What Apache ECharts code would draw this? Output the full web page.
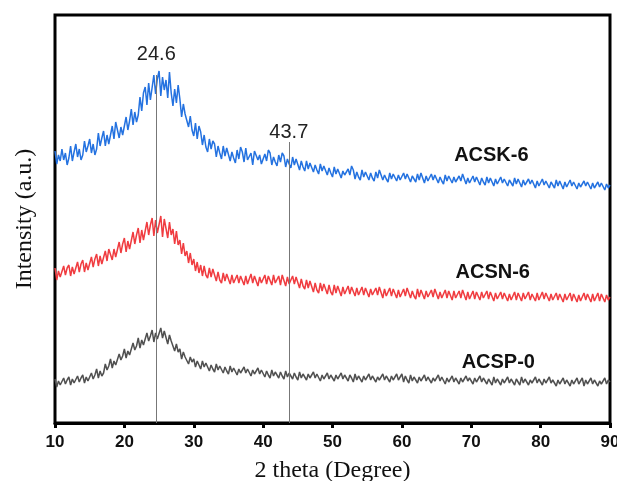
<!DOCTYPE html>
<html><head><meta charset="utf-8">
<script src="https://cdn.jsdelivr.net/npm/echarts@6/dist/echarts.min.js"></script>
<style>html,body{margin:0;padding:0;background:#fff}#c{width:617px;height:481px}</style>
</head><body><div id="c"></div>
<script>
// 2θ sampling: start 10°, step 0.25°, up to 90°
const thetaStart = 10, thetaStep = 0.25;
const xTicks = [10,20,30,40,50,60,70,80,90];
const seriesNames = ['ACSK-6','ACSN-6','ACSP-0'];
const peakPositions = [24.6, 43.7];
const peakLabels = ['24.6', '43.7'];
const peakLineTops = [348, 281];
const nameLabelPos = [[72.9, 268], [73.1, 151], [73.9, 61]];

const acsk6 = [
272,259,268,262, 274,263,270,258, 265,277,262,271, 279,266,274,263, 268,282,271,277,
284,270,279,268, 274,290,277,285, 292,277,288,279, 281,297,284,301, 299,285,296,288,
290,306,293,302, 314,298,311,301, 308,326,312,330, 336,318,340,323, 324,348,329,344,
352,327,346,333, 343,325,351,330, 317,334,320,338, 324,306,319,309, 311,296,307,293,
287,300,284,297, 291,278,288,276, 271,284,274,282, 279,266,277,270, 264,277,267,275,
274,262,271,265, 260,273,264,276, 271,261,275,263, 262,270,258,272, 272,263,268,259,
259,269,262,273, 270,258,266,261, 257,268,261,270, 267,256,264,259, 255,266,258,264,
264,253,262,256, 252,262,254,260, 261,251,258,253, 249,259,252,257, 258,248,255,250,
246,256,249,254, 255,245,252,248, 246,254,248,257, 253,244,251,246, 243,253,246,251,
252,243,250,245, 242,251,245,253, 251,243,248,244, 241,250,244,249, 251,242,248,243,
242,250,244,249, 250,241,247,244, 241,249,243,250, 249,240,247,242, 241,249,243,248,
248,240,246,242, 239,248,242,247, 248,240,246,241, 240,247,242,249, 247,239,245,240,
239,247,241,246, 247,238,245,241, 238,246,240,245, 246,237,244,239, 238,246,240,244,
246,237,243,240, 237,245,239,244, 245,236,243,238, 236,244,239,243, 244,235,242,237,
236,244,238,242, 243,235,241,238, 235,243,237,242, 243,234,241,236, 235,243,237,241,
242,234,240,236, 234,242,237,241, 242,234,240,235, 234,241,236,240, 241,233,239,235,
238];

const acsn6 = [
155,143,152,146, 146,157,148,155, 158,147,156,149, 149,161,151,159, 163,151,160,153,
154,166,156,164, 169,157,167,159, 160,172,162,174, 176,163,174,166, 168,181,170,179,
185,171,182,174, 176,191,179,188, 195,180,193,183, 185,201,188,198, 205,187,203,190,
189,207,186,204, 203,185,201,188, 194,179,192,178, 183,169,180,167, 172,160,170,158,
164,152,161,150, 158,147,157,148, 145,155,146,154, 152,142,151,143, 140,150,142,149,
149,139,148,140, 138,148,140,147, 148,138,147,139, 139,149,140,147, 148,137,146,140,
138,148,139,147, 147,138,148,140, 139,147,138,148, 147,137,146,139, 138,147,139,146,
145,135,144,137, 134,143,135,142, 141,131,140,133, 130,140,132,139, 139,129,138,131,
128,138,130,137, 137,127,136,129, 127,137,129,136, 136,127,135,128, 126,136,128,135,
136,126,134,128, 126,135,128,136, 135,125,134,127, 125,135,127,134, 134,125,133,126,
125,134,127,135, 134,125,132,127, 124,134,126,133, 133,124,132,126, 124,133,126,134,
133,124,131,125, 124,133,125,132, 133,123,132,125, 123,132,125,133, 132,123,131,124,
123,132,124,131, 132,123,131,125, 123,132,124,131, 131,122,130,124, 122,131,124,130,
131,122,129,123, 122,131,123,130, 131,122,130,124, 122,131,123,129, 131,122,130,123,
122,131,124,130, 130,122,129,123, 121,130,123,129, 130,121,129,123, 121,130,122,129,
130,121,128,122, 121,130,123,129, 130,121,129,122, 121,130,122,129, 129,121,128,123,
126];

const acsp0 = [
44,36,42,38, 37,45,39,43, 46,38,44,40, 39,47,41,45, 48,40,46,42,
42,50,44,48, 54,45,52,47, 50,59,53,57, 64,55,62,58, 60,69,63,67,
74,65,72,68, 70,80,73,77, 85,75,83,78, 79,90,82,87, 93,81,90,84,
82,95,85,92, 91,79,88,82, 81,72,79,71, 74,64,71,66, 68,59,66,61,
64,56,62,58, 54,62,56,60, 60,52,58,54, 51,59,53,57, 58,50,56,52,
49,57,51,55, 56,48,54,50, 48,56,50,54, 55,47,53,49, 47,55,49,53,
54,46,52,48, 45,53,47,51, 53,45,51,47, 44,52,46,50, 52,44,50,46,
43,51,45,49, 51,43,49,45, 43,51,45,49, 50,42,48,44, 42,50,44,48,
50,42,48,44, 42,50,44,48, 50,42,48,45, 41,49,43,47, 49,41,47,43,
41,49,43,47, 49,41,46,43, 41,49,43,47, 49,41,47,43, 41,49,43,46,
49,41,47,43, 40,48,42,46, 48,40,46,42, 40,48,42,46, 48,40,45,42,
40,48,42,46, 47,39,45,41, 39,47,41,45, 47,39,45,41, 39,47,42,45,
47,39,45,41, 39,47,41,45, 47,39,44,41, 38,46,40,44, 46,38,44,40,
38,46,40,44, 46,38,44,41, 38,46,40,44, 46,38,43,40, 38,46,40,44,
46,38,44,40, 38,46,40,43, 45,37,43,39, 37,45,39,43, 45,37,43,39,
37,45,39,42, 45,37,43,39, 37,45,39,43, 45,37,42,39, 37,45,39,43,
41];

const pair = arr => arr.map((v, i) => [thetaStart + i * thetaStep, v]);
const colors = ['#2472e0', '#f03c40', '#505050'];
const labelFont = 'Liberation Sans, Arial, sans-serif';

function nameMark(i) {
  return {
    symbol: 'circle', symbolSize: 1, silent: true,
    itemStyle: { color: 'rgba(0,0,0,0)' },
    data: [{ coord: nameLabelPos[i], value: seriesNames[i] }],
    label: { show: true, position: 'inside', formatter: seriesNames[i],
      color: '#111', fontSize: 20, fontWeight: 'bold', fontFamily: labelFont }
  };
}

const chart = echarts.init(document.getElementById('c'), null, { renderer: 'canvas' });
chart.setOption({
  animation: false,
  backgroundColor: '#fff',
  grid: { left: 55, right: 7, top: 15, bottom: 58, show: true, borderColor: '#000', borderWidth: 3,
    backgroundColor: 'transparent', containLabel: false, outerBoundsMode: 'none' },
  xAxis: {
    type: 'value', min: 10, max: 90, interval: 10,
    name: '2 theta (Degree)', nameLocation: 'middle', nameGap: 36,
    nameTextStyle: { fontFamily: 'Liberation Serif, Times New Roman, serif', fontSize: 24, color: '#111' },
    axisLine: { show: true, lineStyle: { color: '#000', width: 3 } },
    axisTick: { show: true, inside: false, length: 5, lineStyle: { color: '#000', width: 3 } },
    axisLabel: { color: '#111', fontSize: 17, fontWeight: 'bold', fontFamily: labelFont, margin: 11,
      formatter: v => xTicks.includes(v) ? String(v) : '' },
    splitLine: { show: false }
  },
  yAxis: {
    type: 'value', min: 0, max: 408,
    name: 'Intensity (a.u.)', nameLocation: 'middle', nameGap: 18,
    nameTextStyle: { fontFamily: 'Liberation Serif, Times New Roman, serif', fontSize: 24, color: '#111' },
    axisLine: { show: false }, axisTick: { show: false }, axisLabel: { show: false }, splitLine: { show: false }
  },
  series: [
    { name: seriesNames[0], type: 'line', data: pair(acsk6), showSymbol: false, symbol: 'none',
      lineStyle: { color: colors[0], width: 1.5 }, z: 3,
      markPoint: nameMark(0),
      markLine: {
        silent: true, symbol: 'none',
        lineStyle: { color: '#777', width: 1, type: 'solid' },
        label: { show: true, position: 'start', color: '#222', fontSize: 20, fontFamily: labelFont },
        data: peakPositions.map((p, k) => [
          { coord: [p, peakLineTops[k]], label: { formatter: peakLabels[k], distance: k === 0 ? 11 : 0 } },
          { coord: [p, 0] }
        ])
      }
    },
    { name: seriesNames[1], type: 'line', data: pair(acsn6), showSymbol: false, symbol: 'none',
      lineStyle: { color: colors[1], width: 1.5 }, z: 3, markPoint: nameMark(1) },
    { name: seriesNames[2], type: 'line', data: pair(acsp0), showSymbol: false, symbol: 'none',
      lineStyle: { color: colors[2], width: 1.5 }, z: 3, markPoint: nameMark(2) }
  ]
});
</script></body></html>
